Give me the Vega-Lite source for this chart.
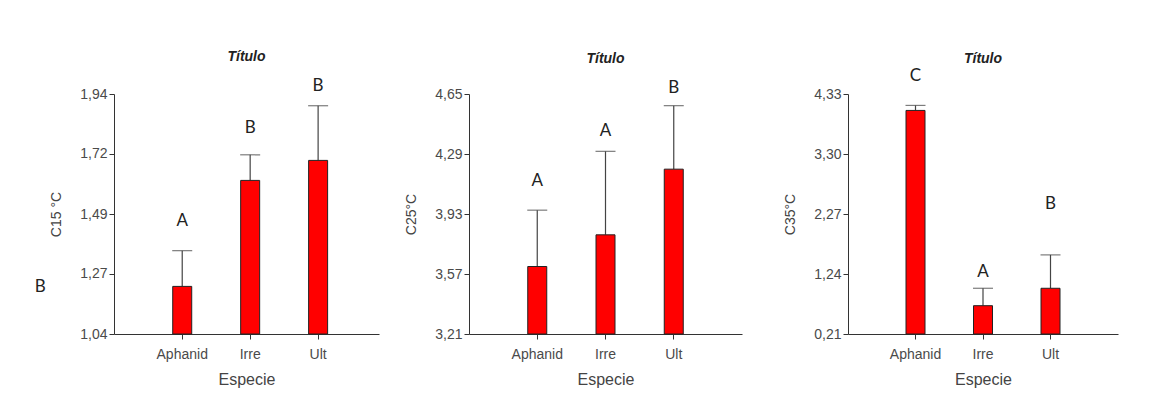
{
  "$schema": "https://vega.github.io/schema/vega-lite/v6.json",
  "background": "white",
  "padding": {"left": 34, "top": 50, "right": 5, "bottom": 5},
  "config": {
    "font": "Liberation Sans",
    "view": {"stroke": null},
    "axis": {"domainColor": "#333", "tickColor": "#333", "labelColor": "#4a4a4a", "labelFontSize": 14, "titleColor": "#444", "titleFontWeight": "normal", "titleFontSize": 16, "grid": false, "tickSize": 5, "labelFont": "Liberation Sans", "titleFont": "Liberation Sans"},
    "axisY": {"titlePadding": 16, "labelPadding": 2},
    "axisX": {"labelPadding": 8, "titlePadding": 10, "labelAngle": 0},
    "title": {"fontSize": 14, "fontStyle": "italic", "fontWeight": "bold", "color": "#222", "font": "Liberation Sans"}
  },
  "datasets": {
    "c15": [
      {"especie": "Aphanid", "mean": 1.2185, "upper": 1.3525, "letter": "A", "ly": 1.4655},
      {"especie": "Irre", "mean": 1.616, "upper": 1.712, "letter": "B", "ly": 1.812},
      {"especie": "Ult", "mean": 1.691, "upper": 1.896, "letter": "B", "ly": 1.969}
    ],
    "c15note": [
      {"especie": "Aphanid", "letter": "B", "ly": 1.216}
    ],
    "c25": [
      {"especie": "Aphanid", "mean": 3.615, "upper": 3.953, "letter": "A", "ly": 4.129},
      {"especie": "Irre", "mean": 3.805, "upper": 4.306, "letter": "A", "ly": 4.43},
      {"especie": "Ult", "mean": 4.199, "upper": 4.58, "letter": "B", "ly": 4.686}
    ],
    "c35": [
      {"especie": "Aphanid", "mean": 4.048, "upper": 4.134, "letter": "C", "ly": 4.633},
      {"especie": "Irre", "mean": 0.696, "upper": 0.995, "letter": "A", "ly": 1.281},
      {"especie": "Ult", "mean": 0.995, "upper": 1.568, "letter": "B", "ly": 2.439}
    ]
  },
  "spacing": 41,
  "hconcat": [
    {
      "spacing": 25,
      "hconcat": [
        {
          "width": 265, "height": 240,
          "title": {"text": "Título", "offset": 13},
          "data": {"name": "c15"},
          "encoding": {
            "x": {"field": "especie", "type": "nominal", "sort": ["Aphanid", "Irre", "Ult"], "scale": {"paddingInner": 0, "paddingOuter": 0.45, "align": 0.56}, "axis": {"title": "Especie"}}
          },
          "layer": [
            {"mark": {"type": "rule", "color": "#444", "strokeWidth": 1.2},
             "encoding": {"y": {"field": "mean", "type": "quantitative", "scale": {"domain": [1.04, 1.94], "nice": false, "zero": false},
               "axis": {"title": "C15 °C", "titleFontSize": 14, "values": [1.04, 1.2651, 1.49, 1.7151, 1.94], "format": ".2f", "labelExpr": "replace(datum.label, '.', ',')"}},
               "y2": {"field": "upper"}}},
            {"mark": {"type": "tick", "orient": "horizontal", "size": 20, "thickness": 1.2, "color": "#444"},
             "encoding": {"y": {"field": "upper", "type": "quantitative"}}},
            {"mark": {"type": "bar", "size": 19, "color": "#ff0000", "stroke": "#222", "strokeWidth": 1},
             "encoding": {"y": {"field": "mean", "type": "quantitative"}, "y2": {"datum": 1.04}}},
            {"mark": {"type": "text", "font": "Lato", "fontSize": 17, "color": "#222", "baseline": "middle"},
             "encoding": {"y": {"field": "ly", "type": "quantitative"}, "text": {"field": "letter"}}},
            {"data": {"name": "c15note"},
             "mark": {"type": "text", "font": "Lato", "fontSize": 17, "color": "#222", "baseline": "middle", "dx": -142},
             "encoding": {"y": {"field": "ly", "type": "quantitative"}, "text": {"field": "letter"}}}
          ]
        },
        {
          "width": 273, "height": 240,
          "title": {"text": "Título", "offset": 13},
          "data": {"name": "c25"},
          "encoding": {
            "x": {"field": "especie", "type": "nominal", "sort": ["Aphanid", "Irre", "Ult"], "scale": {"paddingInner": 0, "paddingOuter": 0.5}, "axis": {"title": "Especie"}}
          },
          "layer": [
            {"mark": {"type": "rule", "color": "#444", "strokeWidth": 1.2},
             "encoding": {"y": {"field": "mean", "type": "quantitative", "scale": {"domain": [3.21, 4.65], "nice": false, "zero": false},
               "axis": {"title": "C25°C", "titleFontSize": 14, "values": [3.21, 3.57, 3.93, 4.29, 4.65], "format": ".2f", "labelExpr": "replace(datum.label, '.', ',')"}},
               "y2": {"field": "upper"}}},
            {"mark": {"type": "tick", "orient": "horizontal", "size": 20, "thickness": 1.2, "color": "#444"},
             "encoding": {"y": {"field": "upper", "type": "quantitative"}}},
            {"mark": {"type": "bar", "size": 19, "color": "#ff0000", "stroke": "#222", "strokeWidth": 1},
             "encoding": {"y": {"field": "mean", "type": "quantitative"}, "y2": {"datum": 3.21}}},
            {"mark": {"type": "text", "font": "Lato", "fontSize": 17, "color": "#222", "baseline": "middle"},
             "encoding": {"y": {"field": "ly", "type": "quantitative"}, "text": {"field": "letter"}}}
          ]
        }
      ]
    },
    {
      "width": 270, "height": 240,
      "title": {"text": "Título", "offset": 1},
      "data": {"name": "c35"},
      "encoding": {
        "x": {"field": "especie", "type": "nominal", "sort": ["Aphanid", "Irre", "Ult"], "scale": {"paddingInner": 0, "paddingOuter": 0.5}, "axis": {"title": "Especie"}}
      },
      "layer": [
        {"mark": {"type": "rule", "color": "#444", "strokeWidth": 1.2},
         "encoding": {"y": {"field": "mean", "type": "quantitative", "scale": {"domain": [0.21, 4.33], "nice": false, "zero": false},
           "axis": {"title": "C35°C", "titleFontSize": 14, "values": [0.21, 1.24, 2.27, 3.3, 4.33], "format": ".2f", "labelExpr": "replace(datum.label, '.', ',')"}},
           "y2": {"field": "upper"}}},
        {"mark": {"type": "tick", "orient": "horizontal", "size": 20, "thickness": 1.2, "color": "#444"},
         "encoding": {"y": {"field": "upper", "type": "quantitative"}}},
        {"mark": {"type": "bar", "size": 19, "color": "#ff0000", "stroke": "#222", "strokeWidth": 1},
         "encoding": {"y": {"field": "mean", "type": "quantitative"}, "y2": {"datum": 0.21}}},
        {"mark": {"type": "text", "font": "Lato", "fontSize": 17, "color": "#222", "baseline": "middle"},
         "encoding": {"y": {"field": "ly", "type": "quantitative"}, "text": {"field": "letter"}}}
      ]
    }
  ]
}
